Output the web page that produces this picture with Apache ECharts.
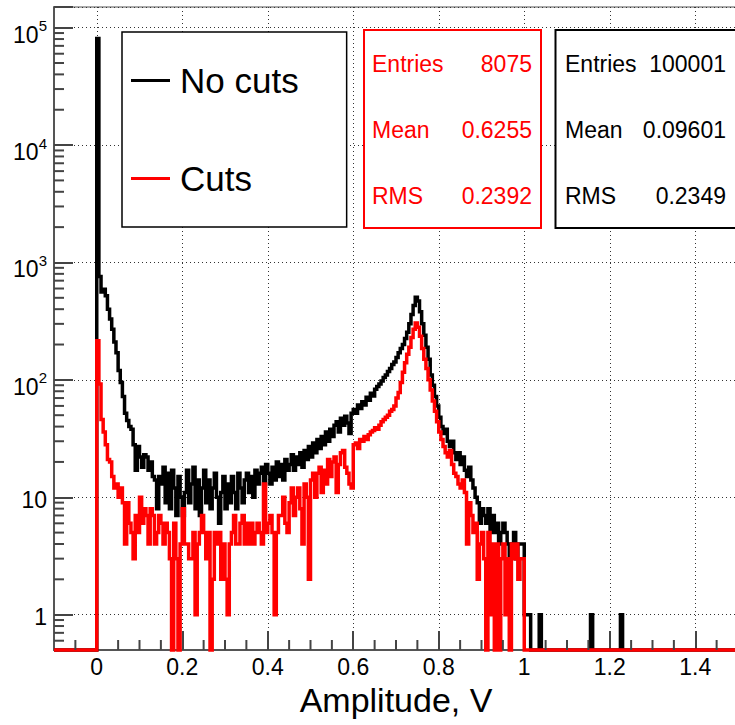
<!DOCTYPE html>
<html>
<head>
<meta charset="utf-8">
<script src="https://cdn.jsdelivr.net/npm/echarts@6/dist/echarts.min.js"></script>
<style>
html, body { margin: 0; padding: 0; background: #fff; }
#chart { width: 735px; height: 725px; }
</style>
</head>
<body>
<div id="chart"></div>
<script>
const FONT = '"Liberation Sans", Helvetica, Arial, sans-serif';

// Histogram binning: 0.005 V wide bins over the frame range
const BIN_WIDTH = 0.005;
const X_MIN = -0.1, X_MAX = 1.5;
const Y_MIN = 0.5, Y_MAX = 1.5e5;

// Bin contents starting at 0 V, one value per 0.005 V bin (0 ... 0.995 V)
const noCutsCounts = [
  81000, 760, 560, 590, 520, 400, 330, 270, 210, 170,
  120, 95, 72, 52, 45, 40, 38, 28, 17, 27,
  22, 18, 23, 22, 17, 20, 15, 14, 8, 15,
  13, 18, 9, 16, 8, 17, 12, 7, 15, 10,
  7, 11, 17, 9, 13, 18, 8, 14, 7, 12,
  17, 9, 14, 8, 12, 16, 10, 6, 11, 15,
  8, 13, 9, 15, 11, 8, 16, 12, 9, 14,
  16, 11, 15, 10, 17, 13, 16, 18, 13, 19,
  16, 13, 18, 14, 20, 15, 19, 14, 21, 17,
  19, 23, 17, 22, 19, 24, 18, 25, 21, 27,
  22, 29, 24, 31, 26, 33, 28, 36, 30, 38,
  33, 41, 44, 36, 47, 41, 49, 43, 35, 52,
  56, 52, 61, 57, 65, 61, 71, 67, 77, 73,
  83, 88, 92, 98, 105, 110, 118, 125, 135, 142,
  155, 170, 185, 200, 225, 255, 300, 360, 430, 505,
  470, 380, 300, 240, 190, 150, 110, 90, 72, 60,
  48, 40, 35, 38, 30, 27, 30, 24, 21, 24,
  19, 22, 17, 15, 18, 14, 12, 10, 9, 6,
  8, 7, 6, 8, 5, 7, 5, 6, 4, 5,
  6, 5, 4, 3, 4, 5, 3, 4, 4, 4
];
// Isolated entries above 1 V: [bin low edge, count]
const noCutsTail = [[1.000, 1], [1.005, 1], [1.010, 1], [1.035, 1], [1.155, 1], [1.225, 1]];

const cutsCounts = [
  215, 92, 46, 36, 28, 21, 20, 15, 12, 13,
  10, 12, 9, 4, 9, 6, 5, 3, 7, 5,
  10, 6, 8, 7, 4, 8, 7, 4, 5, 7,
  6, 4, 6, 5, 3, 0, 6, 3, 0, 4,
  8, 4, 4, 3, 3, 5, 1, 4, 5, 7,
  5, 3, 5, 0, 2, 5, 4, 5, 2, 4,
  2, 1, 4, 5, 7, 4, 4, 6, 7, 4,
  6, 4, 6, 4, 5, 6, 5, 4, 13, 5,
  6, 7, 5, 1, 5, 7, 7, 10, 6, 5,
  9, 12, 7, 10, 12, 8, 4, 13, 10, 2,
  14, 16, 10, 16, 18, 11, 17, 13, 21, 15,
  20, 22, 11, 19, 24, 25, 18, 16, 13, 12,
  28, 29, 26, 31, 30, 33, 31, 34, 36, 37,
  39, 38, 41, 44, 46, 48, 50, 54, 56, 60,
  70, 78, 95, 116, 140, 165, 190, 230, 270, 305,
  280, 235, 185, 150, 125, 100, 82, 66, 54, 44,
  36, 31, 27, 24, 22, 25, 19, 16, 15, 13,
  12, 14, 11, 4, 9, 7, 5, 6, 2, 4,
  5, 3, 0, 5, 1, 4, 0, 4, 0, 3,
  4, 1, 3, 0, 4, 3, 4, 2, 3, 3
];
const cutsTail = [];

// Axis labels
const xTickLabels = [0, 0.2, 0.4, 0.6, 0.8, 1, 1.2, 1.4];
const yDecades = [1, 10, 100, 1000, 10000, 100000];

// Statistics boxes
const statsCuts = [['Entries', '8075'], ['Mean', '0.6255'], ['RMS', '0.2392']];
const statsNoCuts = [['Entries', '100001'], ['Mean', '0.09601'], ['RMS', '0.2349']];

// Turn bin contents into a step outline spanning the whole frame;
// empty bins sit on the bottom of the log frame.
function histOutline(counts, tail) {
  const nBins = Math.round((X_MAX - X_MIN) / BIN_WIDTH);
  const pts = [];
  for (let j = 0; j < nBins; j++) {
    const lo = +(X_MIN + j * BIN_WIDTH).toFixed(4);
    const hi = +(lo + BIN_WIDTH).toFixed(4);
    const k = Math.round(lo / BIN_WIDTH);
    let c = 0;
    if (k >= 0 && k < counts.length) c = counts[k];
    else {
      const t = tail.find(e => Math.round(e[0] / BIN_WIDTH) === k);
      if (t) c = t[1];
    }
    const v = c > 0 ? c : Y_MIN;
    pts.push([lo, v], [hi, v]);
  }
  return pts;
}

// Minor tick positions: every 0.05 V on x, 2..9 per decade on y
const xMinorTicks = [];
for (let k = -1; k <= 29; k++) {
  const v = +(k * 0.05).toFixed(3);
  if (v > X_MIN && v < X_MAX && Math.abs(v / 0.2 - Math.round(v / 0.2)) > 1e-6) xMinorTicks.push(v);
}
const yMinorTicks = [];
for (let e = -1; e <= 5; e++) {
  for (let m = 2; m <= 9; m++) {
    const v = +(m * Math.pow(10, e)).toPrecision(6);
    if (v > Y_MIN && v < Y_MAX) yMinorTicks.push(v);
  }
}

// Minor ticks as thin rectangle markers anchored on the frame edges
function minorTickSeries(points, size, offset) {
  return {
    type: 'scatter',
    data: points,
    symbol: 'rect',
    symbolSize: size,
    symbolOffset: offset,
    itemStyle: { color: '#444', opacity: 1 },
    silent: true,
    clip: false,
    z: 5,
    emphasis: { disabled: true }
  };
}

function statsBox(rows, color, x, w, labelX, valueX) {
  const rowsY = [64, 130, 196];
  const els = [{
    type: 'rect', z: 20,
    shape: { x: x, y: 30, width: w, height: 198 },
    style: { fill: '#fff', stroke: color, lineWidth: 2 }
  }];
  rows.forEach((r, i) => {
    els.push({
      type: 'text', z: 21,
      style: { text: r[0], x: labelX, y: rowsY[i], fill: color, fontSize: 23, fontFamily: FONT,
               align: 'left', verticalAlign: 'middle' }
    });
    els.push({
      type: 'text', z: 21,
      style: { text: r[1], x: valueX, y: rowsY[i], fill: color, fontSize: 23, fontFamily: FONT,
               align: 'right', verticalAlign: 'middle' }
    });
  });
  return els;
}

const TICK_STYLE = { color: '#444', width: 2 };
const GRID_STYLE = { type: [1, 3], color: '#333', width: 1 };

const chart = echarts.init(document.getElementById('chart'), null, { renderer: 'svg' });

chart.setOption({
  animation: false,
  backgroundColor: '#fff',
  textStyle: { fontFamily: FONT },
  grid: {
    left: 54, right: -3, top: 7, bottom: 75,
    containLabel: false, outerBoundsMode: 'none',
    show: true, borderColor: '#555', borderWidth: 1, backgroundColor: 'transparent'
  },
  legend: {
    data: ['No cuts', 'Cuts'],
    orient: 'vertical',
    left: 122, top: 32,
    padding: [31, 48, 31, 9],
    itemGap: 63,
    itemWidth: 39, itemHeight: 3,
    icon: 'rect',
    backgroundColor: '#fff',
    borderColor: '#000', borderWidth: 1.5, borderRadius: 0,
    selectedMode: false,
    textStyle: { fontSize: 35, color: '#000', fontFamily: FONT, padding: [0, 0, 0, 5] },
    z: 10
  },
  xAxis: {
    type: 'value',
    min: X_MIN, max: X_MAX,
    name: 'Amplitude, V',
    nameLocation: 'middle',
    nameGap: 29,
    nameTextStyle: { fontSize: 34, color: '#000', fontFamily: FONT },
    axisLine: { show: true, onZero: false, lineStyle: { color: '#555', width: 2 } },
    axisTick: { show: true, inside: true, length: 19, customValues: xTickLabels, lineStyle: TICK_STYLE },
    splitLine: { show: true, lineStyle: GRID_STYLE },
    axisLabel: { customValues: xTickLabels, fontSize: 23, color: '#000', fontFamily: FONT, margin: 5 }
  },
  yAxis: {
    type: 'log', logBase: 10,
    min: Y_MIN, max: Y_MAX,
    axisLine: { show: true, onZero: false, lineStyle: { color: '#555', width: 2 } },
    axisTick: { show: true, inside: true, length: 19, lineStyle: TICK_STYLE },
    splitLine: { show: true, lineStyle: GRID_STYLE },
    axisLabel: {
      margin: 7,
      color: '#000',
      fontFamily: FONT,
      fontSize: 23,
      formatter: function (v) {
        const lg = Math.log10(v);
        const e = Math.round(lg);
        if (Math.abs(lg - e) > 1e-6 || yDecades.indexOf(Math.pow(10, e)) < 0) return '';
        if (e <= 1) return '{plain|' + Math.pow(10, e) + '}';
        return '{base|10}{sup|' + e + '}';
      },
      rich: {
        plain: { fontSize: 23, color: '#000', fontFamily: FONT, padding: [5, 0, 0, 0] },
        base: { fontSize: 23, color: '#000', fontFamily: FONT, padding: [14, 0, 0, 0] },
        sup: { fontSize: 15, color: '#000', fontFamily: FONT, padding: [9, 0, 0, 0], verticalAlign: 'top' }
      }
    }
  },
  series: [
    minorTickSeries(xMinorTicks.map(v => [v, Y_MIN]), [2, 10], [0, -5]),
    minorTickSeries(yMinorTicks.map(v => [X_MIN, v]), [10, 2], [5, 0]),
    {
      name: 'No cuts', type: 'line',
      data: histOutline(noCutsCounts, noCutsTail),
      symbol: 'none', showSymbol: false, clip: false, z: 3,
      itemStyle: { color: '#000' },
      lineStyle: { color: '#000', width: 3.5, join: 'miter' }
    },
    {
      name: 'Cuts', type: 'line',
      data: histOutline(cutsCounts, cutsTail),
      symbol: 'none', showSymbol: false, clip: false, z: 4,
      itemStyle: { color: '#ff0000' },
      lineStyle: { color: '#ff0000', width: 3.5, join: 'miter' }
    }
  ],
  graphic: [].concat(
    statsBox(statsCuts, '#ff0000', 364, 177, 372, 532),
    statsBox(statsNoCuts, '#000000', 555.5, 190, 565, 726)
  )
});
</script>
</body>
</html>
